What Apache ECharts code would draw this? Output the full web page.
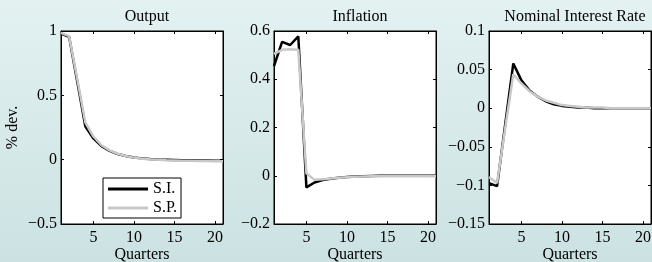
<!DOCTYPE html>
<html>
<head>
<meta charset="utf-8">
<script src="https://cdn.jsdelivr.net/npm/echarts@6/dist/echarts.min.js"></script>
<style>
html, body { margin: 0; padding: 0; }
#chart { width: 652px; height: 262px; background: linear-gradient(#e3f1f1, #cce2e2); }
</style>
</head>
<body>
<div id="chart"></div>
<script>
// impulse responses, quarters 1..21
var quarters = [1, 2, 3, 4, 5, 6, 7, 8, 9, 10, 11, 12, 13, 14, 15, 16, 17, 18, 19, 20, 21];
var outputSI = [0.98, 0.955, 0.61, 0.26, 0.165, 0.105, 0.068, 0.044, 0.028, 0.017, 0.010, 0.005, 0.002, 0.0, -0.002, -0.004, -0.005, -0.006, -0.007, -0.008, -0.008];
var outputSP = [0.985, 0.96, 0.63, 0.29, 0.18, 0.112, 0.072, 0.046, 0.029, 0.016, 0.008, 0.003, -0.001, -0.004, -0.006, -0.008, -0.009, -0.010, -0.011, -0.012, -0.012];
var inflSI = [0.455, 0.555, 0.542, 0.578, -0.048, -0.028, -0.018, -0.012, -0.008, -0.005, -0.003, -0.002, -0.001, 0, 0, 0, 0, 0, 0, 0, 0];
var inflSP = [0.505, 0.522, 0.524, 0.522, 0.01, -0.017, -0.015, -0.011, -0.008, -0.006, -0.004, -0.003, -0.002, -0.002, -0.002, -0.002, -0.002, -0.002, -0.002, -0.002, -0.002];
var rateSI = [-0.097, -0.101, -0.021, 0.058, 0.036, 0.023, 0.015, 0.009, 0.005, 0.003, 0.002, 0.001, 0.001, 0, 0, 0, 0, 0, 0, 0, 0];
var rateSP = [-0.089, -0.097, -0.026, 0.044, 0.032, 0.022, 0.015, 0.010, 0.007, 0.004, 0.003, 0.002, 0.001, 0.001, 0.001, 0, 0, 0, 0, 0, 0];
var xTicks = [5, 10, 15, 20];
var titles = ['Output', 'Inflation', 'Nominal Interest Rate'];
var yRanges = [[-0.5, 1, 0.5], [-0.2, 0.6, 0.2], [-0.15, 0.1, 0.05]];

var font = 'Liberation Serif';
var fs = 16;
var gridLefts = [61, 274, 489];
var gridW = 162;

function pairs(ys) {
	return quarters.map(function(q, i) { return [q, ys[i]]; });
}
function fmt(v) {
	return String(+v.toFixed(2)).replace('-', '\u2212');
}

var chart = echarts.init(document.getElementById('chart'));
var grids = [], xAxes = [], yAxes = [], series = [], title = [];
var sets = [[outputSI, outputSP], [inflSI, inflSP], [rateSI, rateSP]];

for (var p = 0; p < 3; p++) {
	grids.push({
		left: gridLefts[p], top: 31, width: gridW, height: 193, outerBoundsMode: 'none',
		show: true, backgroundColor: '#fff', borderColor: '#000', borderWidth: 1
	});
	title.push({
		text: titles[p], left: gridLefts[p] + gridW / 2, top: 4, textAlign: 'center',
		textStyle: { fontFamily: font, fontSize: fs, fontWeight: 'normal', color: '#000' }
	});
	// bottom and top x axes
	xAxes.push({
		type: 'value', gridIndex: p, min: 1, max: 21, position: 'bottom',
		name: 'Quarters', nameLocation: 'middle', nameGap: 23, nameMoveOverlap: false,
		nameTextStyle: { fontFamily: font, fontSize: fs, color: '#000' },
		axisLine: { onZero: false, lineStyle: { color: '#000' } },
		axisTick: { inside: true, length: 3, customValues: xTicks, lineStyle: { color: '#000' } },
		axisLabel: { customValues: xTicks, margin: 6, fontFamily: font, fontSize: fs, color: '#000' },
		splitLine: { show: false }
	});
	xAxes.push({
		type: 'value', gridIndex: p, min: 1, max: 21, position: 'top',
		axisLine: { onZero: false, lineStyle: { color: '#000' } },
		axisTick: { inside: true, length: 3, customValues: xTicks, lineStyle: { color: '#000' } },
		axisLabel: { show: false },
		splitLine: { show: false }
	});
	var r = yRanges[p];
	yAxes.push({
		type: 'value', gridIndex: p, min: r[0], max: r[1], interval: r[2], position: 'left',
		name: p === 0 ? '% dev.' : '', nameLocation: 'middle', nameGap: 40, nameMoveOverlap: false,
		nameTextStyle: { fontFamily: font, fontSize: fs, color: '#000' },
		axisLine: { show: true, onZero: false, lineStyle: { color: '#000' } },
		axisTick: { show: true, inside: true, length: 3, lineStyle: { color: '#000' } },
		axisLabel: { formatter: fmt, margin: 4, fontFamily: font, fontSize: fs, color: '#000' },
		splitLine: { show: false }
	});
	yAxes.push({
		type: 'value', gridIndex: p, min: r[0], max: r[1], interval: r[2], position: 'right',
		axisLine: { show: true, onZero: false, lineStyle: { color: '#000' } },
		axisTick: { show: true, inside: true, length: 3, lineStyle: { color: '#000' } },
		axisLabel: { show: false },
		splitLine: { show: false }
	});
	series.push({
		name: 'S.I.', type: 'line', xAxisIndex: p * 2, yAxisIndex: p * 2,
		data: pairs(sets[p][0]), showSymbol: false, silent: true,
		lineStyle: { color: '#000', width: 2.5 }, itemStyle: { color: '#000' }
	});
	series.push({
		name: 'S.P.', type: 'line', xAxisIndex: p * 2, yAxisIndex: p * 2,
		data: pairs(sets[p][1]), showSymbol: false, silent: true,
		lineStyle: { color: '#c8c8c8', width: 2.5 }, itemStyle: { color: '#c8c8c8' }
	});
}

var option = {
	animation: false,
	title: title,
	grid: grids,
	xAxis: xAxes,
	yAxis: yAxes,
	legend: {
		data: ['S.I.', 'S.P.'],
		orient: 'vertical', left: 103, top: 178,
		icon: 'rect', itemWidth: 40, itemHeight: 3, itemGap: 3,
		padding: [3, 4, 2, 5],
		backgroundColor: '#fff', borderColor: '#000', borderWidth: 1, borderRadius: 0,
		textStyle: { fontFamily: font, fontSize: fs, color: '#000' }
	},
	series: series
};
chart.setOption(option);
</script>
</body>
</html>
